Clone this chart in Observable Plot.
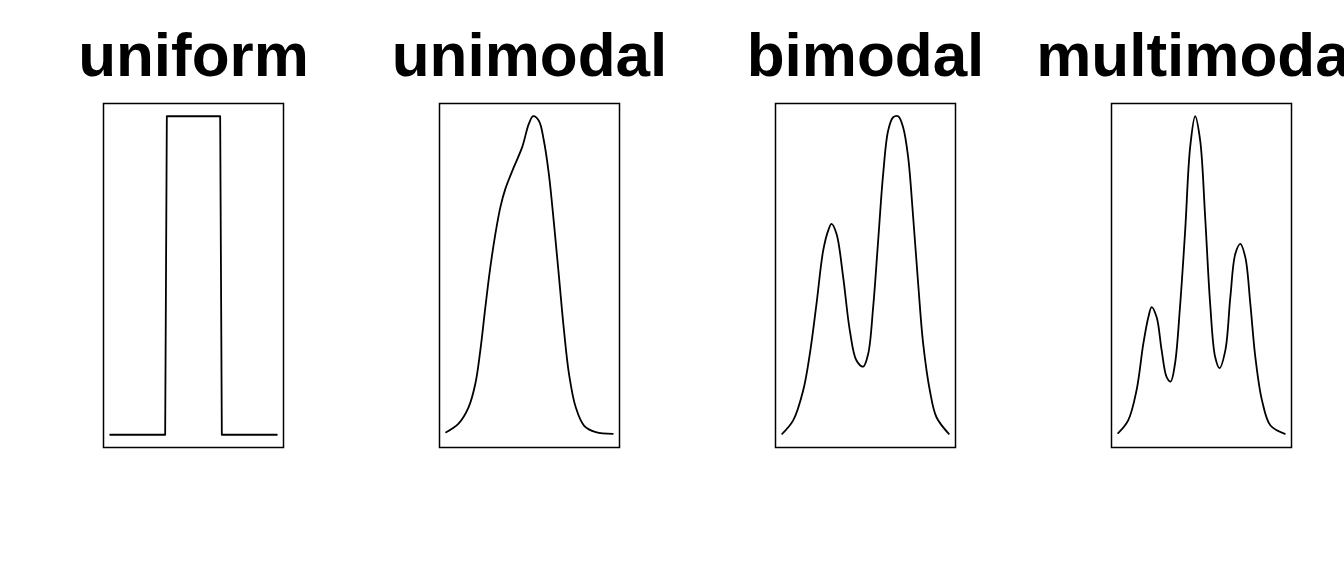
<!DOCTYPE html>
<html>
<head>
<meta charset="utf-8">
<script src="https://cdn.jsdelivr.net/npm/d3@7"></script>
<script src="https://cdn.jsdelivr.net/npm/@observablehq/plot@0.6"></script>
<style>
  html, body { margin: 0; padding: 0; background: #fff; overflow: hidden; }
  #chart { width: 1344px; height: 576px; }
</style>
</head>
<body>
<div id="chart"></div>
<script>
// Panel titles (categories)
const categories = ["uniform", "unimodal", "bimodal", "multimodal"];

// Density shapes (x and height, both relative 0..1)
const uniformX = [0, 0.33, 0.34, 0.66, 0.67, 1];
const uniformY = [0, 0, 1, 1, 0, 0];

const unimodalX = [0, 0.074, 0.135, 0.175, 0.205, 0.235, 0.265, 0.295, 0.325, 0.355, 0.406, 0.456, 0.496, 0.522, 0.556, 0.586, 0.616, 0.647, 0.677, 0.707, 0.737, 0.777, 0.827, 0.898, 1];
const unimodalY = [0.008, 0.035, 0.087, 0.16, 0.265, 0.40, 0.526, 0.63, 0.714, 0.772, 0.84, 0.903, 0.976, 1.0, 0.986, 0.924, 0.819, 0.662, 0.495, 0.327, 0.191, 0.087, 0.029, 0.008, 0.003];

const bimodalX = [0, 0.066, 0.126, 0.166, 0.206, 0.246, 0.276, 0.296, 0.326, 0.366, 0.406, 0.446, 0.486, 0.516, 0.546, 0.576, 0.606, 0.636, 0.666, 0.696, 0.726, 0.756, 0.786, 0.816, 0.846, 0.886, 0.926, 1];
const bimodalY = [0.003, 0.045, 0.139, 0.254, 0.411, 0.578, 0.641, 0.662, 0.631, 0.495, 0.327, 0.233, 0.214, 0.254, 0.401, 0.610, 0.819, 0.955, 0.997, 1.0, 0.965, 0.871, 0.683, 0.474, 0.286, 0.139, 0.055, 0.003];

const multimodalX = [0, 0.06, 0.11, 0.151, 0.181, 0.201, 0.231, 0.261, 0.291, 0.315, 0.341, 0.371, 0.402, 0.432, 0.462, 0.492, 0.522, 0.552, 0.582, 0.608, 0.643, 0.673, 0.703, 0.733, 0.763, 0.793, 0.823, 0.863, 0.914, 1];
const multimodalY = [0.005, 0.045, 0.139, 0.286, 0.369, 0.401, 0.369, 0.265, 0.181, 0.167, 0.223, 0.401, 0.641, 0.903, 1.0, 0.924, 0.683, 0.411, 0.244, 0.209, 0.265, 0.432, 0.568, 0.599, 0.557, 0.411, 0.244, 0.108, 0.029, 0.003];

const toRows = (dist, xs, ys) => xs.map((x, i) => ({dist, x, y: ys[i]}));
const stepRows = toRows("uniform", uniformX, uniformY);
const smoothRows = [
  ...toRows("unimodal", unimodalX, unimodalY),
  ...toRows("bimodal", bimodalX, bimodalY),
  ...toRows("multimodal", multimodalX, multimodalY)
];

const chart = Plot.plot({
  width: 1344,
  height: 576,
  marginLeft: 103,
  marginRight: 53,
  marginTop: 103,
  marginBottom: 129,
  style: {fontFamily: "'Liberation Sans', Arial, sans-serif", background: "#fff", overflow: "visible"},
  fx: {
    domain: categories,
    paddingInner: 1 - 180 / 336,
    paddingOuter: 0
  },
  x: {domain: [-0.04, 1.04], axis: null},
  y: {domain: [-0.04, 1.04], axis: null},
  marks: [
    Plot.axisFx({
      anchor: "top",
      label: null,
      tickSize: 0,
      tickPadding: 28,
      fontSize: 62,
      fontWeight: "bold",
      fill: "#000"
    }),
    Plot.frame({stroke: "#000", strokeWidth: 1.5}),
    Plot.line(stepRows, {x: "x", y: "y", fx: "dist", stroke: "#000", strokeWidth: 1.8, curve: "linear"}),
    Plot.line(smoothRows, {x: "x", y: "y", fx: "dist", z: "dist", stroke: "#000", strokeWidth: 1.8, curve: "catmull-rom"})
  ]
});
document.getElementById("chart").appendChild(chart);
</script>
</body>
</html>
